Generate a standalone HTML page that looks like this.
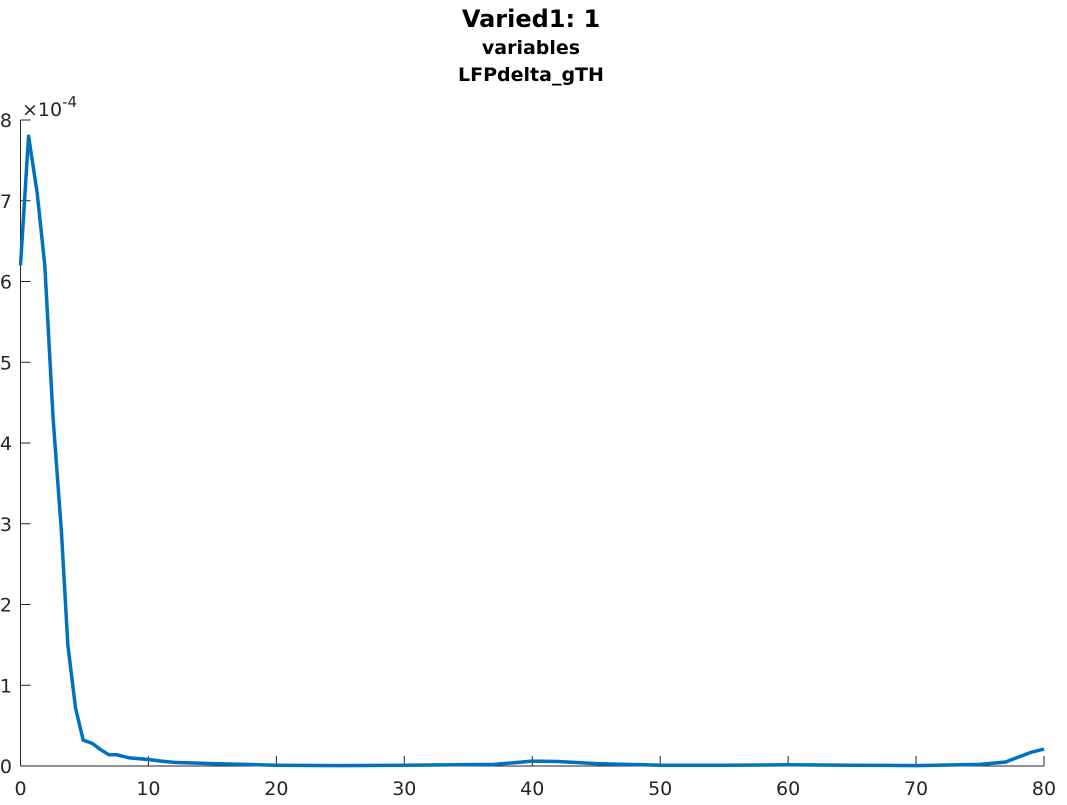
<!DOCTYPE html>
<html><head><meta charset="utf-8"><style>
body{margin:0;background:#fff;font-family:"Liberation Sans","DejaVu Sans",sans-serif}
svg text{font-family:"DejaVu Sans","Liberation Sans",sans-serif}
</style></head><body>
<svg id="chart" width="1067" height="800" xmlns="http://www.w3.org/2000/svg">
<text x="531" y="27" text-anchor="middle" font-size="24" font-weight="bold" fill="#000">Varied1: 1</text>
<text x="531" y="54" text-anchor="middle" font-size="19" font-weight="bold" fill="#000">variables</text>
<text x="531" y="81" text-anchor="middle" font-size="19" font-weight="bold" fill="#000">LFPdelta_gTH</text>
<text x="22" y="116" font-size="19" fill="#262626">×10<tspan font-size="15" dy="-9">-4</tspan></text>
<g id="axes"></g>
<polyline id="series" fill="none" stroke="#0072bd" stroke-width="3.5" stroke-linejoin="round"/>
</svg>
<script>
const xVals=[0,0.63,1.3,1.9,2.55,3.2,3.7,4.3,4.9,5.6,6.2,6.9,7.5,8.5,10,11,12,15,20,25,30,37,40,42,45,50,55,60,65,70,75,77,79,80];
const yVals=[6.2,7.8,7.1,6.2,4.3,2.9,1.5,0.72,0.32,0.28,0.21,0.14,0.14,0.1,0.08,0.06,0.045,0.03,0.01,0.005,0.01,0.02,0.06,0.055,0.03,0.01,0.01,0.015,0.01,0.005,0.02,0.05,0.17,0.21];
const xTicks=[0,10,20,30,40,50,60,70,80];
const yTicks=[0,1,2,3,4,5,6,7,8];
const L=20.5,R=1044,T=120,B=766;
const sx=v=>L+(v-0)/80*(R-L);
const sy=v=>B-(v/8)*(B-T);
const NS="http://www.w3.org/2000/svg";
const ax=document.getElementById('axes');
function mk(t,a){const e=document.createElementNS(NS,t);for(const k in a)e.setAttribute(k,a[k]);return e;}
const xl=mk('line',{x1:L,y1:B,x2:R,y2:B,stroke:'#262626','stroke-width':1});


ax.appendChild(xl);
const yl=mk('line',{x1:L,y1:T,x2:L,y2:B,stroke:'#262626','stroke-width':1});


ax.appendChild(yl);
xTicks.forEach(v=>{
 const t=mk('line',{x1:sx(v),y1:B,x2:sx(v),y2:B-10,stroke:'#262626'});
 
 
 ax.appendChild(t);
 const s=mk('text',{x:sx(v),y:B+29,'text-anchor':'middle','font-size':19,fill:'#262626'});
 
 
 s.textContent=v;ax.appendChild(s);
});
yTicks.forEach(v=>{
 const t=mk('line',{x1:L,y1:sy(v),x2:L+10,y2:sy(v),stroke:'#262626'});
 
 
 ax.appendChild(t);
 const s=mk('text',{x:12,y:sy(v)+7,'text-anchor':'end','font-size':19,fill:'#262626'});
 
 
 s.textContent=v;ax.appendChild(s);
});
document.getElementById('series').setAttribute('points',xVals.map((x,i)=>sx(x)+','+sy(yVals[i])).join(' '));
</script>
</body></html>
